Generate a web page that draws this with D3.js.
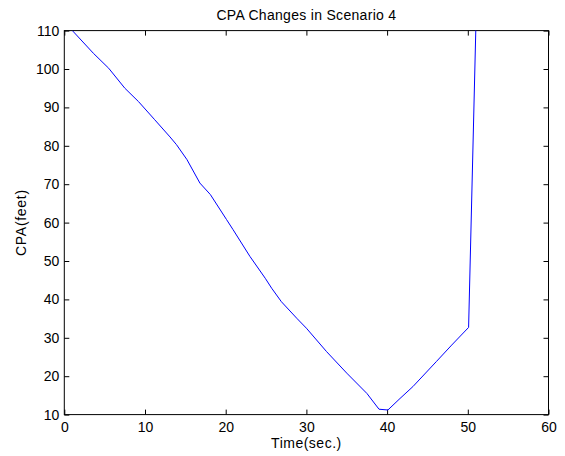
<!DOCTYPE html>
<html>
<head>
<meta charset="utf-8">
<script src="https://cdn.jsdelivr.net/npm/d3@7"></script>
<style>
  html, body { margin: 0; padding: 0; background: #fff; }
  svg { display: block; }
  text { font-family: "Liberation Sans", Arial, Helvetica, sans-serif; fill: #000; }
</style>
</head>
<body>
<svg id="chart" width="565" height="456"></svg>
<script>
// Closest point of approach over time
const timeSec = [1, 3.6, 5.5, 7.5, 9.2, 11.2, 13.1, 13.9, 15.2, 16.8, 18.1, 20.1, 20.9, 23.0, 24.9, 25.7,
                 26.9, 28.8, 30.0, 32.5, 35.0, 37.5, 39.0, 40.1, 41.6, 43.2, 46.1, 48.0, 50.1, 51.0];
const cpaFeet = [110, 104.1, 100.2, 95.0, 91.5, 86.8, 82.3, 80.3, 76.4, 70.3, 67.3, 60.8, 58.2, 51.2, 45.5, 42.9,
                 39.4, 35.1, 32.5, 26.4, 20.8, 15.5, 11.4, 11.2, 14.2, 17.3, 23.8, 28.1, 32.7, 111];

const xTicks = [0, 10, 20, 30, 40, 50, 60];
const yTicks = [10, 20, 30, 40, 50, 60, 70, 80, 90, 100, 110];

const titleText = "CPA Changes in Scenario 4";
const xLabel = "Time(sec.)";
const yLabel = "CPA(feet)";

const plotL = 64.3, plotR = 548.5, plotT = 30.6, plotB = 414.6;
const svg = d3.select("#chart");

const x = d3.scaleLinear().domain([0, 60]).range([plotL, plotR]);
const y = d3.scaleLinear().domain([10, 110]).range([plotB, plotT]);

svg.append("defs").append("clipPath").attr("id", "plot-clip")
  .append("rect").attr("x", plotL).attr("y", plotT)
  .attr("width", plotR - plotL).attr("height", plotB - plotT);

const tickLen = 5;
const fontSize = 14;

// bottom axis with labels, ticks pointing inward
const gx = svg.append("g").attr("transform", `translate(0,${plotB})`)
  .call(d3.axisBottom(x).tickValues(xTicks).tickSizeInner(-tickLen).tickSizeOuter(0).tickPadding(7.5));
// left axis with labels
const gy = svg.append("g").attr("transform", `translate(${plotL},0)`)
  .call(d3.axisLeft(y).tickValues(yTicks).tickSizeInner(-tickLen).tickSizeOuter(0).tickPadding(9));
// top and right mirror ticks, no labels
const gt = svg.append("g").attr("transform", `translate(0,${plotT})`)
  .call(d3.axisTop(x).tickValues(xTicks).tickSizeInner(-tickLen).tickSizeOuter(0).tickFormat(""));
const gr = svg.append("g").attr("transform", `translate(${plotR},0)`)
  .call(d3.axisRight(y).tickValues(yTicks).tickSizeInner(-tickLen).tickSizeOuter(0).tickFormat(""));

[gx, gy, gt, gr].forEach(g => {
  g.select(".domain").remove();
  g.selectAll("line").attr("stroke", "#000").attr("stroke-width", 1);
  g.selectAll("text").attr("font-size", fontSize)
    .style("font-family", "'Liberation Sans', Arial, sans-serif").attr("fill", "#000");
});
gy.selectAll("text").attr("dx", "4");

// plot frame
svg.append("rect").attr("x", plotL).attr("y", plotT)
  .attr("width", plotR - plotL).attr("height", plotB - plotT)
  .attr("fill", "none").attr("stroke", "#000").attr("stroke-width", 1);

// data line
const points = timeSec.map((t, i) => [t, cpaFeet[i]]);
svg.append("path").datum(points)
  .attr("clip-path", "url(#plot-clip)")
  .attr("fill", "none").attr("stroke", "#0000ff").attr("stroke-width", 1)
  .attr("d", d3.line().x(d => x(d[0])).y(d => y(d[1])));

// title and axis labels
svg.append("text").attr("x", (plotL + plotR) / 2).attr("y", 19.5)
  .attr("text-anchor", "middle").attr("font-size", fontSize)
  .style("letter-spacing", "0.3px").text(titleText);
svg.append("text").attr("x", (plotL + plotR) / 2).attr("y", 448.3)
  .attr("text-anchor", "middle").attr("font-size", fontSize)
  .style("letter-spacing", "0.5px").text(xLabel);
svg.append("text").attr("transform", `translate(25.5,${(plotT + plotB) / 2}) rotate(-90)`)
  .attr("text-anchor", "middle").attr("font-size", fontSize)
  .style("letter-spacing", "0.7px").text(yLabel);
</script>
</body>
</html>
